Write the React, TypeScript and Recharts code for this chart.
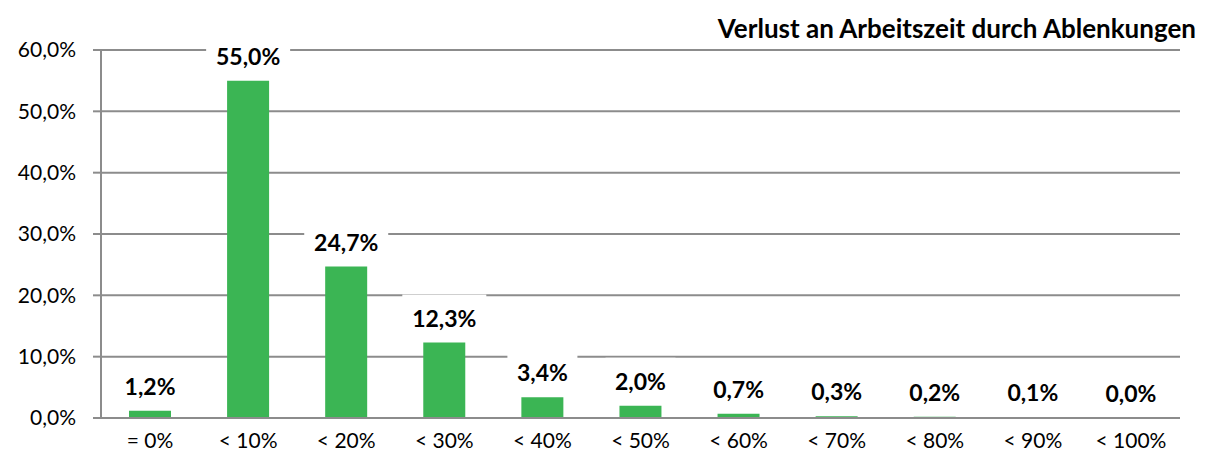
import React from "react";
import { ComposedChart, Bar, Line, XAxis, YAxis, CartesianGrid, LabelList } from "recharts";

const categories = ["= 0%", "< 10%", "< 20%", "< 30%", "< 40%", "< 50%", "< 60%", "< 70%", "< 80%", "< 90%", "< 100%"];
const values = [1.2, 55.0, 24.7, 12.3, 3.4, 2.0, 0.7, 0.3, 0.2, 0.1, 0.0];
const yTicks = [0, 10, 20, 30, 40, 50, 60];
const boundaryTicks = [0, 1, 2, 3, 4, 5, 6, 7, 8, 9, 10, 11];
const title = "Verlust an Arbeitszeit durch Ablenkungen";

const data = categories.map((c, i) => ({ cat: c, v: values[i], pos: i + 0.5 }));

const FONT = "Lato, 'Open Sans', sans-serif";
const GRAY = "#8c8c8c";
const GREEN = "#3bb554";

const fmt = (v: number) => `${v.toFixed(1).replace(".", ",")}%`;

const PointLabel = (props: any) => {
  const { x, y, value } = props;
  const cx = Number(x);
  const cy = Number(y) - 25;
  const text = fmt(Number(value));
  const w = text.length * 14 + 14;
  return (
    <g>
      <rect x={cx - w / 2} y={cy - 23} width={w} height={44} fill="#ffffff" />
      <text
        x={cx}
        y={cy}
        textAnchor="middle"
        dominantBaseline="central"
        fontFamily={FONT}
        fontWeight="bold"
        fontSize={23}
        fill="#000"
      >
        {text}
      </text>
    </g>
  );
};

export default function App() {
  return (
    <div style={{ position: "absolute", left: 0, top: 0, width: 1206, height: 463, background: "#fff", fontFamily: FONT }}>
      <ComposedChart
        width={1206}
        height={463}
        data={data}
        margin={{ top: 50, right: 26, bottom: 0, left: 0 }}
        barCategoryGap={0}
      >
        <CartesianGrid horizontal vertical={false} stroke={GRAY} strokeWidth={2} yAxisId="y" xAxisId="cat" />
        <XAxis
          xAxisId="b"
          type="number"
          dataKey="pos"
          domain={[0, 11]}
          ticks={boundaryTicks}
          height={0}
          axisLine={false}
          tickLine={{ stroke: GRAY, strokeWidth: 2 }}
          tickSize={8}
          tickFormatter={() => ""}
          allowDecimals={false}
        />
        <XAxis
          xAxisId="cat"
          dataKey="cat"
          height={45}
          axisLine={{ stroke: GRAY, strokeWidth: 2 }}
          tickLine={false}
          tickMargin={9}
          tick={{ fill: "#000", fontSize: 21, fontFamily: FONT }}
          interval={0}
        />
        <YAxis
          yAxisId="y"
          width={101}
          domain={[0, 60]}
          ticks={yTicks}
          tickFormatter={fmt}
          axisLine={{ stroke: GRAY, strokeWidth: 2 }}
          tickLine={{ stroke: GRAY, strokeWidth: 2 }}
          tickSize={8}
          tickMargin={17}
          tick={{ fill: "#000", fontSize: 21, fontFamily: FONT }}
        />
        <Bar dataKey="v" xAxisId="cat" yAxisId="y" fill={GREEN} barSize={42} isAnimationActive={false} />
        <Line
          dataKey="v"
          xAxisId="cat"
          yAxisId="y"
          stroke="none"
          dot={false}
          activeDot={false}
          isAnimationActive={false}
        >
          <LabelList dataKey="v" content={PointLabel} />
        </Line>
      </ComposedChart>
      <div
        style={{
          position: "absolute",
          right: 10,
          top: 15,
          fontSize: 26,
          lineHeight: "26px",
          fontWeight: "bold",
          color: "#000",
          whiteSpace: "nowrap",
        }}
      >
        {title}
      </div>
    </div>
  );
}
